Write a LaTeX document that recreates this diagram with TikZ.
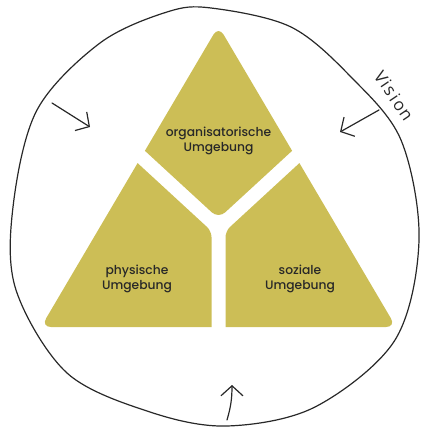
\documentclass[tikz,border=0pt]{standalone}
\usepackage{fontspec}
\setmainfont{Poppins}
\IfFontExistsTF{Poppins Medium}
	{\newfontfamily\labelfont{Poppins Medium}}
	{\newfontfamily\labelfont{Poppins}[FakeBold=1.6]}
\newfontfamily\handfont{Open Sans}[LetterSpace=10]
\usetikzlibrary{arrows.meta}

\definecolor{olive}{RGB}{204,190,86}
\definecolor{ink}{RGB}{40,40,40}

\begin{document}
\begin{tikzpicture}[x = 1pt, y = -1pt,
	piece/.style = {fill = olive, draw = none},
	label/.style = {align = center, text = ink, font = \labelfont\fontsize{12.3}{15}\selectfont},
	outline/.style = {draw = ink, line width = 1.2pt},
	pointer/.style = {draw = ink, line width = 1.2pt, line cap = round, -{Straight Barb[length = 10pt, width = 22pt, line width = 1.2pt]}}]

	\useasboundingbox (0, 0) rectangle (422, 427);

	% Corners of the three pieces
	
	\coordinate (A) at (218.5, 26);
	\coordinate (L1) at (144.9, 150.8);
	\coordinate (R1) at (292.1, 150.8);
	\coordinate (B1) at (218.5, 218.5);
	\coordinate (L2) at (137.6, 163.1);
	\coordinate (R2) at (299.4, 163.1);
	\coordinate (S1) at (211.5, 231.1);
	\coordinate (S2) at (225.5, 231.1);
	\coordinate (F1) at (211.5, 327);
	\coordinate (F2) at (225.5, 327);
	\coordinate (BL) at (41, 327);
	\coordinate (BR) at (396, 327);
	
	% Pieces
	
	\fill [piece] (L1) [rounded corners = 10pt] -- (A) [sharp corners] -- (R1) [rounded corners = 9pt] -- (B1) [sharp corners] -- cycle;
	\fill [piece] (L2) [rounded corners = 6pt] -- (S1) [sharp corners] -- (F1) [rounded corners = 10pt] -- (BL) [sharp corners] -- cycle;
	\fill [piece] (R2) [rounded corners = 6pt] -- (S2) [sharp corners] -- (F2) [rounded corners = 10pt] -- (BR) [sharp corners] -- cycle;
	
	\node [label] (orga) at (218.5, 141) {organisatorische\\Umgebung};
	\node [label] (phys) at (137, 279) {physische\\Umgebung};
	\node [label] (sozi) at (300, 279) {soziale\\Umgebung};
	
	% Loop around
	
	\draw [outline] plot [smooth cycle, tension = 0.55] coordinates {
		(211, 8) (291, 27) (351, 77) (401, 140) (419, 240) (395, 340)
		(315, 407) (227, 426) (150, 412) (67, 373) (16, 290) (13, 207)
		(37, 110) (100, 43) (167, 12)};
	
	\node [text = ink, rotate = -56, inner sep = 0pt, font = \handfont\fontsize{17}{17}\selectfont] (vision) at (394, 96) {Vision};
	
	% Arrows pointing inwards
	
	\draw [pointer] (52, 103) -- (90, 127);
	\draw [pointer] (379, 110) -- (340, 132);
	\draw [pointer] (227, 420) to [bend right = 8] (232, 385);

\end{tikzpicture}
\end{document}
